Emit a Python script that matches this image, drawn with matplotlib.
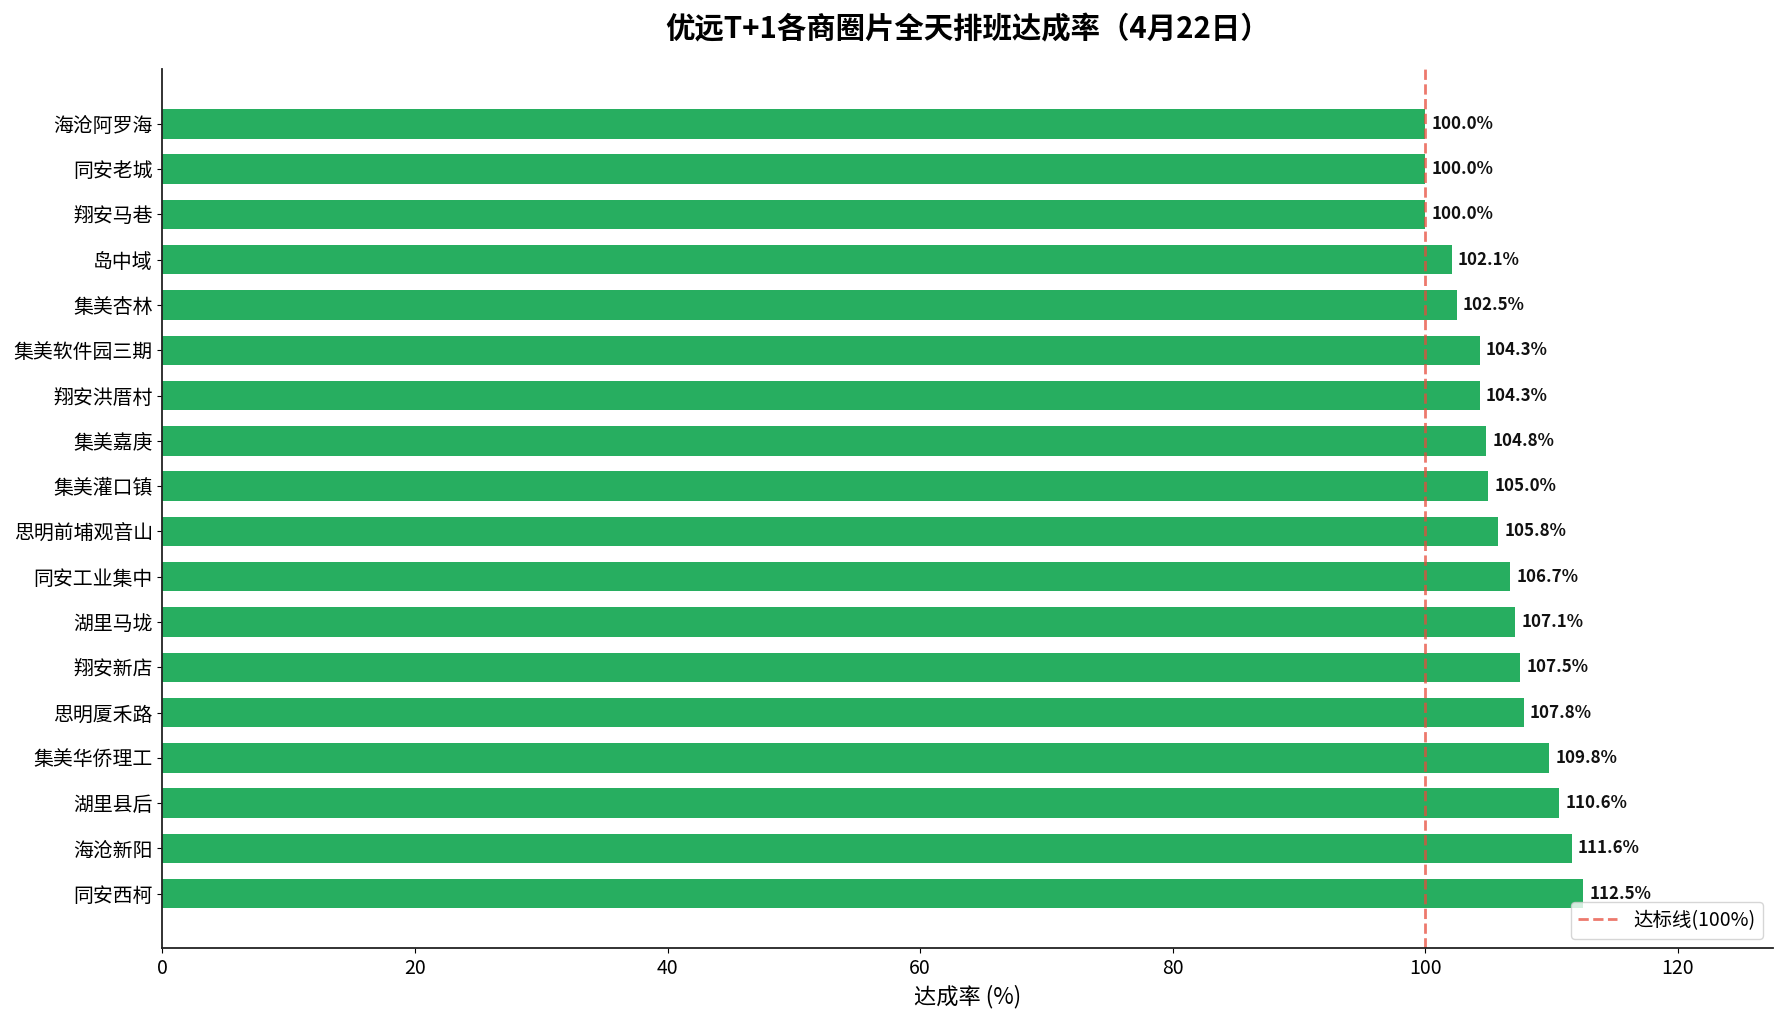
import matplotlib
matplotlib.use("Agg")
import matplotlib.pyplot as plt

plt.rcParams['font.family'] = ['Noto Sans CJK SC', 'DejaVu Sans']
plt.rcParams['axes.unicode_minus'] = False

# data, top to bottom as in the chart
areas = ["海沧阿罗海", "同安老城", "翔安马巷", "岛中域", "集美杏林", "集美软件园三期",
         "翔安洪厝村", "集美嘉庚", "集美灌口镇", "思明前埔观音山", "同安工业集中",
         "湖里马垅", "翔安新店", "思明厦禾路", "集美华侨理工", "湖里县后",
         "海沧新阳", "同安西柯"]
rates = [100.0, 100.0, 100.0, 102.1, 102.5, 104.3, 104.3, 104.8, 105.0, 105.8,
         106.7, 107.1, 107.5, 107.8, 109.8, 110.6, 111.6, 112.5]
target = 100
xticks = [0, 20, 40, 60, 80, 100, 120]

fig, ax = plt.subplots(figsize=(17.85, 10.33), dpi=100)
fig.subplots_adjust(left=0.091, right=0.993, top=0.933, bottom=0.082)

ypos = list(range(len(areas)))
ax.barh(ypos, rates, height=0.65, color="#27AE60")
ax.axvline(target, color="#E74C3C", linestyle="--", linewidth=2, alpha=0.75,
           label="达标线(100%)")

for y, v in zip(ypos, rates):
    ax.text(v + 0.5, y, f"{v:.1f}%", va="center", ha="left",
            fontsize=12.2, fontweight="bold", color="#111111")

ax.set_yticks(ypos)
ax.set_yticklabels(areas, fontsize=14.3)
ax.invert_yaxis()
ax.set_xticks(xticks)
ax.tick_params(axis="x", labelsize=14)
ax.set_xlim(0, 127.5)

ax.set_xlabel("达成率 (%)", fontsize=16)
ax.set_title("优远T+1各商圈片全天排班达成率（4月22日）", fontsize=21.2,
             fontweight="bold", pad=22)

ax.spines["top"].set_visible(False)
ax.spines["right"].set_visible(False)
for s in ("left", "bottom"):
    ax.spines[s].set_color("#222222")
    ax.spines[s].set_linewidth(1.3)

ax.legend(loc="lower right", fontsize=14, borderaxespad=0.5)

fig.savefig("out.png", dpi=100)
